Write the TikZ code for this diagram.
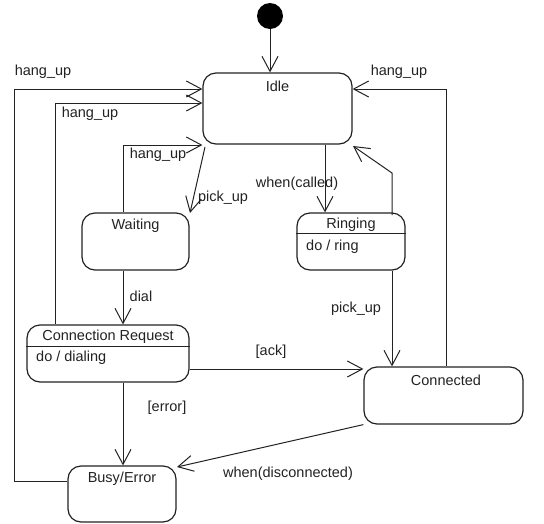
\documentclass[tikz,border=0pt]{standalone}
\usepackage{fontspec}
\setmainfont{Liberation Sans}
\usetikzlibrary{arrows.meta}
\definecolor{ink}{HTML}{222222}
\tikzset{
  state/.style={draw=ink, line width=1.2pt, rounded corners=13pt, inner sep=0pt},
  lbl/.style={text=ink, inner sep=0pt, font=\fontsize{14.5}{17}\selectfont},
  conn/.style={draw=ink, line width=1pt, -{Straight Barb[length=15pt,width=16pt,line width=1pt]}},
}
\begin{document}
\begin{tikzpicture}[x=1pt,y=-1pt]
\useasboundingbox (0,0) rectangle (544,523);
% initial state
\node[circle, fill=black, minimum size=26pt, inner sep=0pt] (init) at (270,16) {};
% states
\node[state, minimum width=149pt, minimum height=71pt] (Idle) at (277.5,108.5) {};
\node[state, minimum width=107pt, minimum height=57pt] (Waiting) at (135.5,241.5) {};
\node[state, minimum width=108pt, minimum height=57pt] (Ringing) at (351,241.5) {};
\node[state, minimum width=162pt, minimum height=57pt] (CR) at (108,353.5) {};
\node[state, minimum width=159pt, minimum height=57pt] (Connected) at (443.5,395.5) {};
\node[state, minimum width=108pt, minimum height=56pt] (Busy) at (122,494) {};
% dividers
\draw[ink, line width=1pt] (Ringing.west |- 0,233) -- (Ringing.east |- 0,233);
\draw[ink, line width=1pt] (CR.west |- 0,346) -- (CR.east |- 0,346);
% state texts
\node[lbl] (tIdle) at (277.5,86) {Idle};
\node[lbl] (tWaiting) at (135.5,226) {Waiting};
\node[lbl] (tRinging) at (351,225) {Ringing};
\node[lbl, anchor=west] (tRing) at (306,247) {do / ring};
\node[lbl] (tCR) at (108,337) {Connection Request};
\node[lbl, anchor=west] (tDial) at (36,358) {do / dialing};
\node[lbl] (tConnected) at (446,380) {Connected};
\node[lbl] (tBusy) at (122,479) {Busy/Error};
% connectors
\draw[conn] (init) -- (Idle.north -| init);
\draw[conn] (Busy.west |- 0,481) -- (14,481) -- (14,89) -- (Idle.west |- 0,89);
\draw[conn] (CR.north -| 55,0) -- (55,103) -- (Idle.west |- 0,103);
\draw[conn] (Waiting.north -| 123,0) -- (123,145) -- (Idle.west |- 0,145);
\draw[conn] (205,147) -- (190,213);
\draw[conn] (Waiting.south -| 123,0) -- (CR.north -| 123,0);
\draw[conn] (Idle.south -| 325,0) -- (Ringing.north -| 325,0);
\draw[conn] (392,215) -- (392,173) -- (353,146);
\draw[conn] (Ringing.south -| 392,0) -- (Connected.north -| 392,0);
\draw[conn] (Connected.north -| 446,0) -- (446,89) -- (Idle.east |- 0,89);
\draw[conn] (CR.east |- 0,369) -- (Connected.west |- 0,369);
\draw[conn] (CR.south -| 123,0) -- (Busy.north -| 123,0);
\draw[conn] (Connected.south west) -- (177,467);
% transition labels
\node[lbl] (l1) at (43,72) {hang\_up};
\node[lbl] (l2) at (90,114) {hang\_up};
\node[lbl] (l3) at (158,155) {hang\_up};
\node[lbl] (l4) at (399,72) {hang\_up};
\node[lbl] (l5) at (223,198) {pick\_up};
\node[lbl] (l6) at (297,184) {when(called)};
\node[lbl] (l7) at (356,309) {pick\_up};
\node[lbl] (l8) at (141,296) {dial};
\node[lbl] (l9) at (271,352) {[ack]};
\node[lbl] (l10) at (167,408) {[error]};
\node[lbl] (l11) at (288,474) {when(disconnected)};
\end{tikzpicture}
\end{document}
